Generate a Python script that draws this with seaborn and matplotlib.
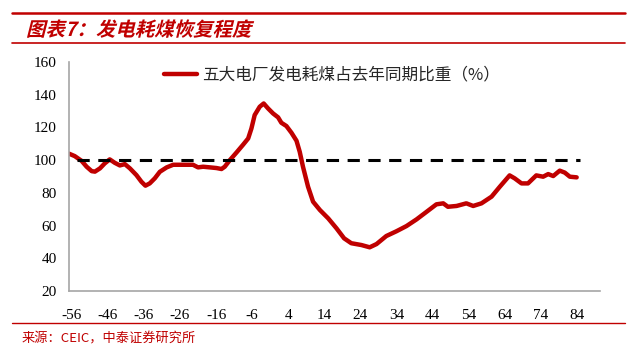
import matplotlib
matplotlib.use("Agg")
import matplotlib.pyplot as plt
import seaborn as sns
import pandas as pd
from matplotlib.textpath import TextPath
from matplotlib.font_manager import FontProperties
from matplotlib.patches import PathPatch
from matplotlib.transforms import Affine2D

# days relative to Spring Festival, ratio vs same period last year (%)
days = [-56.8, -55.2, -53.3, -51.9, -50.5, -49.6, -48.2, -46.9, -45.5, -44.1,
        -42.7, -41.3, -39.9, -38.1, -36.7, -35.6, -34.4, -33.0, -31.6, -29.7,
        -27.9, -25.1, -22.4, -21.0, -19.6, -17.7, -15.9, -14.5, -13.6, -12.2,
        -10.3, -8.5, -7.1, -6.2, -5.3, -3.9, -2.8, -1.6, -0.2, 1.2,
        2.1, 3.5, 4.9, 6.3, 7.2, 8.1, 9.5, 10.9, 12.8, 15.1,
        17.4, 19.5, 21.5, 24.3, 26.6, 28.5, 31.2, 34.0, 36.8, 39.6,
        42.3, 45.1, 47.0, 48.3, 50.7, 53.4, 55.3, 57.6, 60.4, 62.7,
        65.4, 66.8, 68.7, 70.5, 72.8, 74.7, 76.1, 77.5, 79.3, 80.7,
        82.1, 84.0]
ratio = [104.0, 102.5, 99.6, 96.0, 93.3, 93.0, 95.0, 98.0, 100.5, 98.4,
         96.8, 97.6, 95.0, 90.9, 86.8, 84.4, 85.8, 88.9, 92.9, 95.6,
         97.2, 97.2, 97.2, 95.6, 96.0, 95.6, 95.2, 94.6, 96.0, 100.0,
         104.8, 109.5, 113.3, 119.4, 127.6, 132.7, 134.7, 131.7, 128.6, 126.2,
         122.9, 120.9, 116.8, 111.9, 105.1, 96.0, 83.8, 74.6, 69.5, 64.4,
         58.3, 52.2, 49.2, 48.1, 46.7, 48.7, 53.6, 56.5, 59.7, 63.8,
         68.3, 73.0, 73.6, 71.5, 72.0, 73.6, 72.0, 73.6, 77.7, 83.8,
         90.7, 88.9, 85.8, 85.8, 90.7, 89.9, 91.5, 90.3, 93.6, 92.4,
         89.9, 89.5]
base_x = [-54.5, 85.0]
base_y = [100, 100]
xticks = list(range(-56, 85, 10))
yticks = list(range(20, 161, 20))

legend_label = "五大电厂发电耗煤占去年同期比重（%）"
title = "图表7：发电耗煤恢复程度"
source = "来源：CEIC，中泰证券研究所"

red = "#C00000"

sns.set_style("white")
plt.rcParams["font.family"] = ["Liberation Serif", "Noto Sans CJK SC", "DejaVu Sans"]
plt.rcParams["axes.unicode_minus"] = False

df = pd.DataFrame({"day": days, "ratio": ratio})

fig = plt.figure(figsize=(6.36, 3.57), dpi=100)
ax = fig.add_axes([0.109, 0.185, 0.834, 0.641])

sns.lineplot(data=df, x="day", y="ratio", color=red, linewidth=3.2,
             label=legend_label, ax=ax)
ax.plot(base_x, base_y, color="black", linewidth=2.2, linestyle=(0, (4, 2.8)))

ax.set_xlim(-56.7, 90.4)
ax.set_ylim(20, 160)
ax.set_xticks(xticks)
ax.set_yticks(yticks)
ax.set_xlabel("")
ax.set_ylabel("")
for side in ["top", "right"]:
    ax.spines[side].set_visible(False)
for side in ["left", "bottom"]:
    ax.spines[side].set_color("#a6a6a6")
    ax.spines[side].set_linewidth(1.2)
ax.tick_params(axis="both", which="major", direction="out", length=5,
               width=1, color="#a6a6a6", labelsize=11, labelcolor="black")
ax.tick_params(axis="x", pad=8)
ax.tick_params(axis="y", pad=4)

ax.legend(loc="center left", bbox_to_anchor=(0.165, 0.943), frameon=False,
          handlelength=2.0, handletextpad=0.3, borderaxespad=0,
          prop={"family": ["Noto Sans CJK SC"], "size": 12})

# header / footer decorations
fig.add_artist(plt.Line2D([12 / 636, 625 / 636], [1 - 13 / 357, 1 - 13 / 357],
                          color=red, linewidth=1.8))
fig.add_artist(plt.Line2D([12 / 636, 625 / 636], [1 - 43 / 357, 1 - 43 / 357],
                          color=red, linewidth=1.2))
fig.add_artist(plt.Line2D([12 / 636, 625 / 636], [1 - 323 / 357, 1 - 323 / 357],
                          color=red, linewidth=1.0))

# italic-looking title: skewed text path, placed in pixel coordinates
tp = TextPath((0, 0), title, size=14,
              prop=FontProperties(family="Noto Sans CJK SC", weight="bold"))
tr = Affine2D().skew_deg(14, 0).scale(100 / 72).translate(26, 357 - 36)
fig.patches.append(PathPatch(tp, facecolor=red, edgecolor="none",
                             transform=tr, figure=fig))

fig.text(22 / 636, 1 - 339 / 357, source, color=red, fontsize=9.5, va="center",
         ha="left", family=["Noto Sans CJK SC", "DejaVu Sans"])

fig.savefig("out.png", dpi=100)
